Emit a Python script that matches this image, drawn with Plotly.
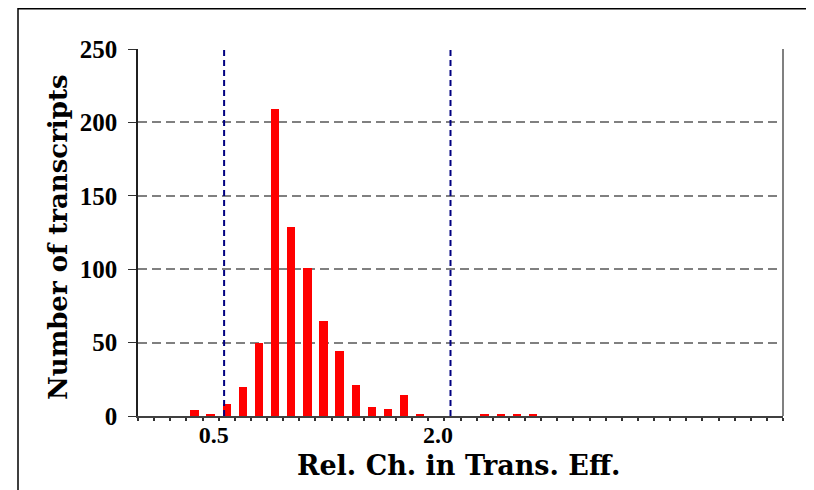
import plotly.graph_objects as go

# Data: 40 bins (category index), counts
bin_index = list(range(40))
counts = [0, 0, 0, 4, 1, 8, 20, 50, 209, 129, 101, 65, 44, 21, 6, 5, 14, 1, 0, 0,
          0, 1, 1, 1, 1, 0, 0, 0, 0, 0, 0, 0, 0, 0, 0, 0, 0, 0, 0, 0]
tick_positions = [4.2, 18.1]
tick_labels = ["0.5", "2.0"]
threshold_positions = [4.84, 18.88]
y_ticks = [0, 50, 100, 150, 200, 250]
x_title = "Rel. Ch. in Trans. Eff."
y_title = "Number of transcripts"

# page is rendered with an 8px body margin; work in page pixels
OFF = 8
W, H = 814 - OFF, 490 - OFF
L, R, T, B = 138, 783, 49, 416          # plot area in page pixels
pw, ph = R - L, B - T


def px(x):
    return (x - L) / pw


def py(y):
    return (B - y) / ph


fig = go.Figure()
fig.add_trace(go.Bar(x=bin_index, y=counts, width=0.52,
                     marker=dict(color="#FF0000", line=dict(width=0))))

tfont = "Liberation Serif, Times New Roman, serif"
hfont = "DejaVu Serif, serif"

fig.update_layout(
    width=W, height=H,
    margin=dict(l=L - OFF, r=W - (R - OFF), t=T - OFF, b=H - (B - OFF), pad=0),
    plot_bgcolor="white", paper_bgcolor="white",
    showlegend=False,
    bargap=0,
    font=dict(family=tfont, size=24, color="black"),
)

fig.update_xaxes(
    range=[-0.5, 39.5],
    tickmode="array", tickvals=tick_positions, ticktext=tick_labels,
    ticks="", ticklen=0,
    tickfont=dict(family=tfont, size=24, color="black", weight="bold"),
    ticklabelstandoff=-4,
    minor=dict(tickmode="linear", tick0=0.5, dtick=1, ticks="outside",
               ticklen=3, tickcolor="#303030", tickwidth=1.5, showgrid=False),
    showline=True, linecolor="#404040", linewidth=2,
    showgrid=False, zeroline=False,
)

fig.update_yaxes(
    range=[0, 250],
    tickmode="array", tickvals=y_ticks,
    ticks="outside", ticklen=8, tickcolor="#303030", tickwidth=1,
    tickfont=dict(family=tfont, size=25, color="black", weight="bold"),
    ticklabelstandoff=6,
    showline=True, linecolor="#202020", linewidth=1.5,
    showgrid=True, gridcolor="#808080", gridwidth=1.5, griddash="9px,5px",
    zeroline=False,
)

# axis titles
fig.add_annotation(text=x_title, xref="paper", yref="paper",
                   x=px(459), y=py(465), xanchor="center", yanchor="middle",
                   showarrow=False,
                   font=dict(family=hfont, size=27, color="black", weight="bold"))
fig.add_annotation(text=y_title, xref="paper", yref="paper",
                   x=px(58), y=py(237), xanchor="center", yanchor="middle",
                   textangle=-90, showarrow=False,
                   font=dict(family=hfont, size=26, color="black", weight="bold"))

# threshold dashed vertical lines
for xv in threshold_positions:
    fig.add_shape(type="line", xref="x", yref="paper", x0=xv, x1=xv, y0=0, y1=1,
                  line=dict(color="#000080", width=2, dash="6px,4px"))

# right border of plot area
fig.add_shape(type="line", xref="paper", yref="paper", x0=1, x1=1, y0=0, y1=1,
              line=dict(color="#808080", width=2))

# outer frame (image border)
fig.add_shape(type="rect", xref="paper", yref="paper",
              x0=px(18), x1=px(811), y0=py(530), y1=py(OFF + 0.8),
              line=dict(color="black", width=1.5), fillcolor="rgba(0,0,0,0)",
              layer="above")

fig.write_html("out.html")
